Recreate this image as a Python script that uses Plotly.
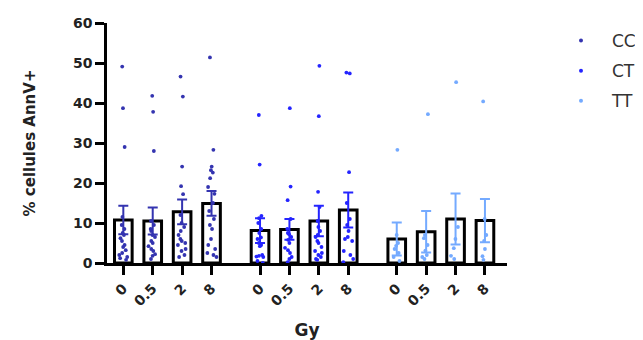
import plotly.graph_objects as go

doses = ["0", "0.5", "2", "8"]
genotypes = ["CC", "CT", "TT"]
colors = {"CC": "#3434b0", "CT": "#2424ff", "TT": "#74aaff"}

# bar means and SEM
means = {
    "CC": [10.75, 10.5, 12.8, 14.9],
    "CT": [8.1, 8.4, 10.5, 13.25],
    "TT": [6.0, 7.8, 11.0, 10.6],
}
sems = {
    "CC": [3.55, 3.4, 3.1, 3.1],
    "CT": [3.1, 2.6, 3.8, 4.35],
    "TT": [4.1, 5.2, 6.4, 5.4],
}

# individual points
pts_CC = [
    [49.1, 38.7, 29.0, 11.5, 9.5, 8.5, 7.5, 7.0, 6.2, 5.5, 4.5, 4.0, 3.2, 2.5, 2.0, 1.2, 0.8, 1.5],
    [41.8, 37.8, 28.0, 10.5, 9.5, 8.5, 8.0, 7.0, 6.5, 5.5, 5.0, 4.2, 3.5, 3.0, 2.2, 1.8, 1.0],
    [46.6, 41.6, 24.1, 19.2, 17.2, 12.0, 10.0, 9.0, 8.0, 7.0, 6.0, 5.0, 4.5, 3.0, 2.0, 1.5, 3.5, 5.5],
    [51.4, 28.3, 24.1, 23.2, 22.6, 21.2, 19.0, 17.3, 15.0, 13.0, 11.0, 9.5, 8.5, 6.0, 4.5, 3.5, 2.5, 2.0, 1.5],
]
pts_CT = [
    [37.0, 24.6, 11.8, 11.2, 10.0, 8.5, 7.5, 6.4, 6.0, 5.0, 4.5, 4.2, 2.0, 1.8, 1.6, 1.5, 0.5, 0.0],
    [38.7, 19.1, 15.7, 11.0, 8.5, 7.5, 7.2, 6.5, 5.8, 5.0, 3.8, 3.2, 2.5, 1.5, 1.0, 0.2],
    [49.3, 36.7, 17.8, 14.0, 10.5, 9.0, 8.0, 7.0, 6.5, 5.5, 5.0, 4.0, 3.0, 2.5, 1.5, 1.0, 0.8, 2.0],
    [47.6, 47.4, 22.7, 15.0, 11.0, 9.5, 8.0, 6.5, 6.0, 5.5, 3.0, 0.2, 2.0, 1.0],
]
pts_TT = [
    [28.3, 7.0, 5.0, 4.3, 3.5, 2.5, 1.5, 0.5],
    [37.2, 7.0, 6.2, 4.5, 3.1, 2.0, 1.5, 1.0],
    [45.2, 9.0, 6.0, 3.7, 1.8, 1.0],
    [40.4, 11.0, 7.0, 5.5, 3.5, 1.7, 0.8],
]
points = {"CC": pts_CC, "CT": pts_CT, "TT": pts_TT}

# x slot of each bar (groups separated by a gap)
group_start = {"CC": 0.0, "CT": 4.65, "TT": 9.3}

fig = go.Figure()

tickvals, ticktext = [], []
for g in genotypes:
    xs = [group_start[g] + i for i in range(len(doses))]
    tickvals += xs
    ticktext += doses
    fig.add_trace(go.Bar(
        x=xs, y=means[g], width=0.6,
        marker=dict(color="white", line=dict(color="black", width=3)),
        error_y=dict(type="data", array=sems[g], visible=True,
                     color=colors[g], thickness=2, width=5),
        showlegend=False, hoverinfo="skip",
    ))

for g in genotypes:
    bx, by = [], []
    for i, vals in enumerate(points[g]):
        for v in vals:
            bx.append(group_start[g] + i)
            by.append(v)
    fig.add_trace(go.Box(
        x=bx, y=by, boxpoints="all", jitter=0.8, pointpos=0, width=0.45,
        line=dict(width=0, color="rgba(0,0,0,0)"), fillcolor="rgba(0,0,0,0)",
        marker=dict(color=colors[g], size=3.8),
        showlegend=False, hoverinfo="skip",
    ))

for g in genotypes:
    fig.add_trace(go.Scatter(
        x=[None], y=[None], mode="markers", name=g, legendgroup=g,
        marker=dict(color=colors[g], size=4),
    ))

BOLD = "DejaVu Sans, sans-serif"

# page body has an 8px margin: figure drawn at (8, 8)
fig.update_layout(
    width=635, height=332,
    margin=dict(l=99, r=136, t=15, b=77, autoexpand=False),
    plot_bgcolor="white", paper_bgcolor="white",
    barmode="overlay", boxmode="overlay",
    font=dict(family=BOLD, color="#222"),
    legend=dict(x=1.1075, y=1.0, xanchor="left", yanchor="top",
                font=dict(size=17, color="#333", family=BOLD), traceorder="grouped",
                tracegroupgap=5, itemwidth=52, bgcolor="rgba(0,0,0,0)"),
    xaxis=dict(
        range=[-0.555, 13.05], tickvals=tickvals, ticktext=ticktext,
        tickangle=-45, ticks="outside", ticklen=9, tickwidth=2.5, tickcolor="black",
        showline=True, linecolor="black", linewidth=2.5, showgrid=False,
        zeroline=False, automargin=False,
        tickfont=dict(size=14, color="#222", weight="bold"),
        title=dict(text="Gy", font=dict(size=17, color="#222", weight="bold"), standoff=25),
    ),
    yaxis=dict(
        range=[0, 60], tickvals=[0, 10, 20, 30, 40, 50, 60],
        ticks="outside", ticklen=9, tickwidth=2.5, tickcolor="black",
        showline=True, linecolor="black", linewidth=2.5, showgrid=False,
        zeroline=False, automargin=False,
        tickfont=dict(size=14, color="#222", weight="bold"),
        title=dict(text="% cellules AnnV+", font=dict(size=15, color="#222", weight="bold"), standoff=34),
    ),
)

fig.write_html("out.html")
